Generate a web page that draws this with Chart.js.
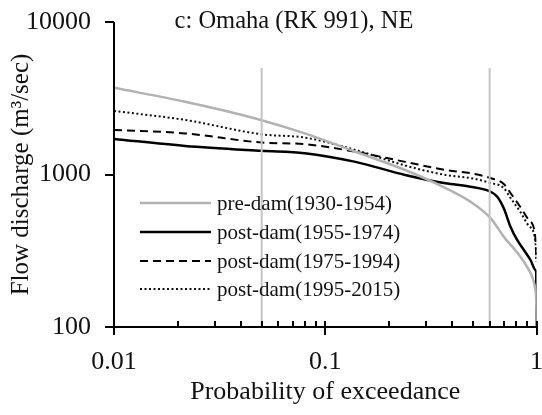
<!DOCTYPE html>
<html><head><meta charset="utf-8">
<script src="https://cdn.jsdelivr.net/npm/chart.js@4.4.1/dist/chart.umd.min.js"></script>
<style>html,body{margin:0;padding:0;background:#fff;overflow:hidden}</style>
</head><body>
<canvas id="c" width="542" height="415" style="width:542px;height:415px;display:block"></canvas>
<script>
// ---- data ----
const chartTitle = "c: Omaha (RK 991), NE";
const xTickValues = [0.01, 0.1, 1];
const yTickValues = [100, 1000, 10000];
const markerProbs = [0.05, 0.6];
const markerRange = [100, 5000];

const probPre = [0.01, 0.0217, 0.0467, 0.08, 0.139, 0.239, 0.371, 0.486, 0.605, 0.70, 0.839, 0.937, 0.989, 0.999, 1.0];
const flowPre = [3700, 3000, 2330, 1860, 1410, 1070, 815, 664, 519, 391, 289, 226, 175, 129, 100];

const probPost1 = [0.01, 0.0217, 0.05, 0.08, 0.139, 0.239, 0.371, 0.486, 0.605, 0.652, 0.70, 0.753, 0.81, 0.871, 0.937, 0.989, 0.997, 1.0];
const flowPost1 = [1710, 1540, 1430, 1380, 1210, 993, 875, 832, 772, 715, 600, 455, 372, 320, 275, 236, 226, 100];

const probPost2 = [0.01, 0.0217, 0.05, 0.08, 0.139, 0.239, 0.371, 0.486, 0.605, 0.70, 0.753, 0.839, 0.92, 0.989, 0.998];
const flowPost2 = [1960, 1860, 1620, 1580, 1410, 1210, 1070, 1020, 948, 867, 756, 612, 503, 384, 280];

const probPost3 = [0.01, 0.0217, 0.05, 0.08, 0.139, 0.239, 0.371, 0.486, 0.605, 0.70, 0.753, 0.839, 0.92, 0.989, 0.998];
const flowPost3 = [2610, 2280, 1835, 1745, 1450, 1145, 993, 948, 880, 815, 702, 568, 460, 361, 268];

const seriesLabels = ["pre-dam(1930-1954)", "post-dam(1955-1974)", "post-dam(1975-1994)", "post-dam(1995-2015)"];

// ---- build ----
const pts = (xs, ys) => xs.map((x, i) => ({x: x, y: ys[i]}));
const SERIF = "'Liberation Serif', 'Times New Roman', serif";

const datasets = [
  {label: 'm1', data: pts([markerProbs[0], markerProbs[0]], markerRange), borderColor: '#c4c4c4', borderWidth: 2, legend: false},
  {label: 'm2', data: pts([markerProbs[1], markerProbs[1]], markerRange), borderColor: '#c4c4c4', borderWidth: 2, legend: false},
  {label: seriesLabels[0], data: pts(probPre, flowPre), borderColor: '#b2b2b2', borderWidth: 2.5, legend: true, cubicInterpolationMode: 'monotone'},
  {label: seriesLabels[1], data: pts(probPost1, flowPost1), borderColor: '#000', borderWidth: 2.5, legend: true, cubicInterpolationMode: 'monotone'},
  {label: seriesLabels[2], data: pts(probPost2, flowPost2), borderColor: '#000', borderWidth: 2, borderDash: [8, 5], legend: true, cubicInterpolationMode: 'monotone'},
  {label: seriesLabels[3], data: pts(probPost3, flowPost3), borderColor: '#111', borderWidth: 2, borderDash: [2, 2.5], legend: true, cubicInterpolationMode: 'monotone'}
];
datasets.forEach(d => { d.pointRadius = 0; d.fill = false; });

const decorPlugin = {
  id: 'decor',
  afterDraw(chart) {
    const ctx = chart.ctx, a = chart.chartArea;
    const xs = chart.scales.x, ys = chart.scales.y;
    ctx.save();
    ctx.strokeStyle = '#000';
    ctx.lineWidth = 2;
    ctx.beginPath();
    ctx.moveTo(a.left, a.top); ctx.lineTo(a.left, a.bottom + 1);
    ctx.moveTo(a.left - 1, a.bottom); ctx.lineTo(a.right + 1, a.bottom);
    ctx.stroke();
    ctx.beginPath();
    yTickValues.forEach(v => { const y = Math.round(ys.getPixelForValue(v)); ctx.moveTo(a.left - 9, y); ctx.lineTo(a.left, y); });
    xTickValues.forEach(v => { const x = Math.round(xs.getPixelForValue(v)); ctx.moveTo(x, a.bottom - 6); ctx.lineTo(x, a.bottom + 8); });
    [0.01, 0.1].forEach(d => { for (let k = 2; k <= 9; k++) { const x = Math.round(xs.getPixelForValue(d * k)); ctx.moveTo(x, a.bottom - 6); ctx.lineTo(x, a.bottom); } });
    ctx.stroke();
    ctx.fillStyle = '#111';
    ctx.font = "24.5px " + SERIF;
    ctx.textAlign = 'center';
    ctx.textBaseline = 'middle';
    ctx.fillText(chartTitle, 294, 22);
    const rows = [203, 232, 261, 289];
    ctx.font = "21px " + SERIF;
    ctx.textAlign = 'left';
    const legendSets = chart.data.datasets.filter(d => d.legend);
    legendSets.forEach((d, i) => {
      ctx.save();
      ctx.strokeStyle = d.borderColor;
      ctx.lineWidth = d.borderWidth;
      ctx.setLineDash(d.borderDash || []);
      ctx.beginPath(); ctx.moveTo(140, rows[i]); ctx.lineTo(211, rows[i]); ctx.stroke();
      ctx.restore();
      ctx.fillText(d.label, 217, rows[i] + 1);
    });
    ctx.restore();
  }
};

new Chart(document.getElementById('c'), {
  type: 'line',
  data: {datasets: datasets},
  plugins: [decorPlugin],
  options: {
    responsive: false,
    animation: false,
    layout: {padding: {top: 22, right: 5.5, left: 0, bottom: 0}},
    plugins: {legend: {display: false}, title: {display: false}, tooltip: {enabled: false}},
    scales: {
      x: {
        type: 'logarithmic', min: 0.01, max: 1,
        afterBuildTicks: s => { s.ticks = xTickValues.map(v => ({value: v})); },
        afterFit: s => { s.height = 88; s.paddingLeft = 0; s.paddingRight = 0; s.paddingTop = 0; s.paddingBottom = 0; },
        grid: {display: false, drawTicks: false},
        border: {display: false},
        ticks: {color: '#111', font: {family: SERIF, size: 26}, padding: 20, maxRotation: 0, autoSkip: false, callback: v => String(v)},
        title: {display: true, text: 'Probability of exceedance', color: '#111', font: {family: SERIF, size: 26}, padding: {top: 0, bottom: 7}}
      },
      y: {
        type: 'logarithmic', min: 100, max: 10000,
        afterBuildTicks: s => { s.ticks = yTickValues.map(v => ({value: v})); },
        afterFit: s => { s.width = 114; s.paddingLeft = 0; s.paddingRight = 0; s.paddingTop = 0; s.paddingBottom = 0; },
        grid: {display: false, drawTicks: false},
        border: {display: false},
        ticks: {color: '#111', font: {family: SERIF, size: 26}, padding: 23, autoSkip: false, callback: v => String(v)},
        title: {display: true, text: 'Flow discharge (m\u00B3/sec)', color: '#111', font: {family: SERIF, size: 25}, padding: {top: 6, bottom: 0}}
      }
    }
  }
});
</script>
</body></html>
